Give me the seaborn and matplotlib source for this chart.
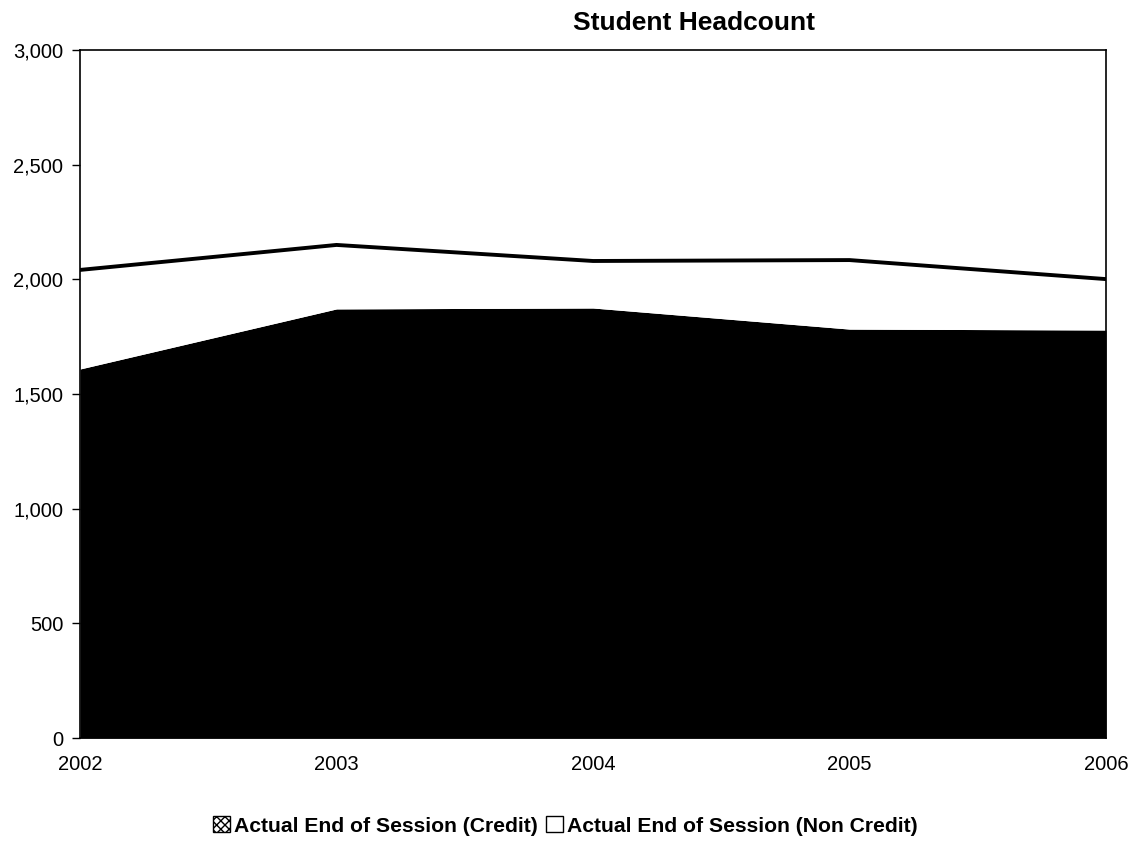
import pandas as pd
import matplotlib.pyplot as plt
import seaborn as sns
from matplotlib.patches import Patch

# datos
years = [2002, 2003, 2004, 2005, 2006]
credit = [1609, 1871, 1875, 1783, 1779]
non_credit = [432, 279, 205, 301, 222]

df = pd.DataFrame({"year": years, "credit": credit, "non_credit": non_credit})
df["total"] = df["credit"] + df["non_credit"]

sns.set_style("white")
plt.rcParams["font.family"] = ["Liberation Sans", "DejaVu Sans"]
plt.rcParams["text.color"] = "black"
plt.rcParams["xtick.color"] = "black"
plt.rcParams["ytick.color"] = "black"

fig = plt.figure(figsize=(11.31, 8.41), dpi=100)
ax = fig.add_axes([80 / 1131, 1 - 738 / 841, (1106 - 80) / 1131, (738 - 50) / 841])

# areas apiladas
ax.stackplot(df["year"], df["credit"], df["non_credit"],
             colors=["black", "white"], linewidth=0)
sns.lineplot(data=df, x="year", y="total", color="black", linewidth=2.8, ax=ax)

ax.set_xlim(2002, 2006)
ax.set_ylim(0, 3000)
ax.set_xticks(years)
ax.set_yticks(range(0, 3001, 500))
ax.yaxis.set_major_formatter(plt.FuncFormatter(lambda v, p: f"{int(v):,}"))
ax.tick_params(axis="y", length=6, width=1, direction="out", left=True, labelsize=14.5,
               pad=6, colors="black")
ax.tick_params(axis="x", length=0, labelsize=14.5, pad=12, colors="black")
ax.set_xlabel("")
ax.set_ylabel("")
for s in ax.spines.values():
    s.set_color("black")
    s.set_linewidth(1.2)

fig.text(694 / 1131, 1 - 30 / 841, "Student Headcount", ha="center", va="baseline",
         fontsize=19, fontweight="bold", color="black")

handles = [Patch(facecolor="white", edgecolor="black", hatch="xxxx"),
           Patch(facecolor="white", edgecolor="black")]
labels = ["Actual End of Session (Credit)", "Actual End of Session (Non Credit)"]
leg = fig.legend(handles, labels, loc="center", bbox_to_anchor=(0.5, 1 - 826 / 841), ncol=2,
                 frameon=False, prop={"weight": "bold", "size": 15.2},
                 handlelength=0.8, handleheight=0.8, handletextpad=0.2, columnspacing=0.4)
for t in leg.get_texts():
    t.set_color("black")

fig.savefig("out.png", dpi=100)
